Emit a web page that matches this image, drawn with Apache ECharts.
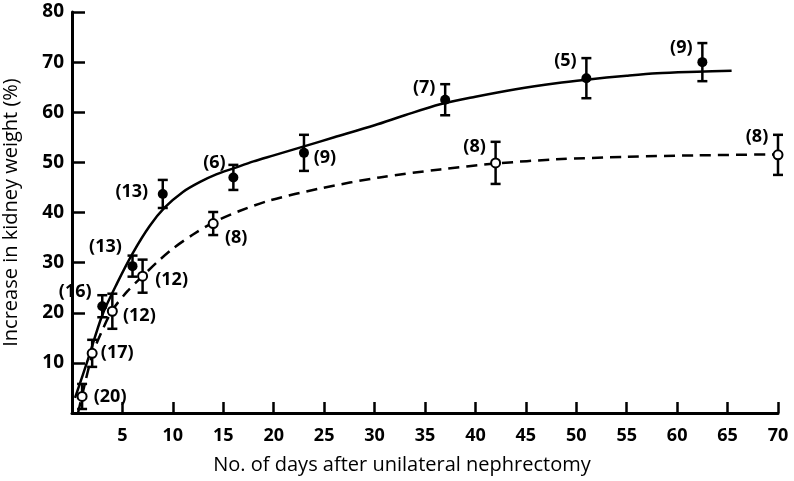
<html>
<meta charset="UTF-8">
<head>
    <script src="https://cdn.jsdelivr.net/npm/echarts@6/dist/echarts.min.js"></script>
</head>
<body style="margin:0;background:#fff">

<div id="kidneyChart" style="width:794px;height:481px;"></div>

</body>
<script>
    // points with error bars, filled circles (solid curve)
    var daysFilled = [3, 6, 9, 16, 23, 37, 51, 62.5];
    var meanFilled = [21.3, 29.3, 43.7, 47, 51.9, 62.5, 66.8, 70];
    var errFilled = [2.2, 2.1, 2.8, 2.5, 3.6, 3.1, 4, 3.8];
    var nFilled = [16, 13, 13, 6, 9, 7, 5, 9];

    // open circles (dashed curve)
    var daysOpen = [1, 2, 4, 7, 14, 42, 70];
    var meanOpen = [3.3, 11.9, 20.3, 27.3, 37.8, 49.9, 51.5];
    var errOpen = [2.5, 2.7, 3.5, 3.3, 2.3, 4.2, 4];
    var nOpen = [20, 17, 12, 12, 8, 8, 8];

    // fitted curves as drawn
    var solidX = [0.3, 1.6, 3, 4.5, 6, 7.7, 9.2, 11, 12.7, 14.3, 16, 18, 20, 23, 26, 30, 33, 36.5, 40, 44, 48, 51, 55, 58, 62, 65.4];
    var solidY = [3, 10.8, 19.5, 26, 31.8, 37.3, 41, 44.1, 46.1, 47.6, 48.8, 50.2, 51.4, 53.2, 55, 57.4, 59.4, 61.6, 63.1, 64.6, 65.8, 66.5, 67.3, 67.8, 68.1, 68.3];
    var dashX = [0.6, 1, 2, 3, 4, 5.5, 7, 8.5, 10, 12, 14, 16.6, 19.6, 24.6, 30.5, 36.5, 42.2, 48, 55, 62, 70];
    var dashY = [0, 3.5, 11.5, 16.5, 20.5, 24.3, 27.3, 30.2, 32.8, 35.6, 38, 40.3, 42.4, 44.8, 47, 48.6, 49.8, 50.6, 51.1, 51.4, 51.6];

    // where the (n) labels sit relative to each point, px
    var labelOffFilled = [[-27, -14], [-27, -19], [-31, -2], [-19, -15], [21, 5], [-21, -12], [-21, -17], [-21, -14]];
    var labelOffOpen = [[28, 0], [25, 0], [27, 5], [29, 4], [23, 14], [-21, -16], [-21, -18]];

    var FONT = 'Open Sans';

    function zip(xs, ys) {
        var out = [];
        for (var i = 0; i < xs.length; i++) out.push([xs[i], ys[i]]);
        return out;
    }

    function errData(xs, m, e) {
        var out = [];
        for (var i = 0; i < xs.length; i++) out.push([xs[i], m[i] - e[i], m[i] + e[i]]);
        return out;
    }

    function pointData(xs, ys, ns, offs) {
        var out = [];
        for (var i = 0; i < xs.length; i++) {
            out.push({
                value: [xs[i], ys[i]],
                n: ns[i],
                label: {offset: offs[i]}
            });
        }
        return out;
    }

    function renderErr(params, api) {
        var x = api.value(0);
        var top = api.coord([x, api.value(2)]);
        var bot = api.coord([x, api.value(1)]);
        var w = 5;
        var st = {stroke: '#000', lineWidth: 2.5};
        return {
            type: 'group',
            children: [
                {type: 'line', shape: {x1: top[0], y1: top[1], x2: bot[0], y2: bot[1]}, style: st},
                {type: 'line', shape: {x1: top[0] - w, y1: top[1], x2: top[0] + w, y2: top[1]}, style: st},
                {type: 'line', shape: {x1: bot[0] - w, y1: bot[1], x2: bot[0] + w, y2: bot[1]}, style: st}
            ]
        };
    }

    var labelStyle = {
        show: true,
        position: 'inside',
        align: 'center',
        verticalAlign: 'middle',
        color: '#000',
        fontFamily: FONT,
        fontWeight: 'bold',
        fontSize: 18,
        formatter: function (p) { return '(' + p.data.n + ')'; }
    };

    var chart = echarts.init(document.getElementById('kidneyChart'));
    chart.setOption({
        animation: false,
        backgroundColor: '#fff',
        grid: {left: 72, right: 16, top: 12, bottom: 68, containLabel: false, outerBoundsMode: 'none'},
        xAxis: {
            type: 'value',
            min: 0, max: 70, interval: 5,
            name: 'No. of days after unilateral nephrectomy',
            nameLocation: 'middle',
            nameGap: 42,
            nameTextStyle: {fontFamily: FONT, fontSize: 20, color: '#000', padding: [0, 46, 0, 0]},
            axisLine: {lineStyle: {color: '#000', width: 3}},
            axisTick: {inside: true, length: 11, lineStyle: {color: '#000', width: 2.5}},
            axisLabel: {
                margin: 14, color: '#000', fontFamily: FONT, fontSize: 18, fontWeight: 'bold',
                formatter: function (v) { return v === 0 ? '' : v; }
            },
            splitLine: {show: false}
        },
        yAxis: {
            type: 'value',
            min: 0, max: 80, interval: 10,
            name: 'Increase in kidney weight (%)',
            nameLocation: 'middle',
            nameGap: 51,
            nameTextStyle: {fontFamily: FONT, fontSize: 20, color: '#000'},
            axisLine: {show: true, lineStyle: {color: '#000', width: 3}},
            axisTick: {show: true, inside: true, length: 13, lineStyle: {color: '#000', width: 2.5}},
            axisLabel: {
                margin: 8, color: '#000', fontFamily: FONT, fontSize: 19, fontWeight: 'bold',
                formatter: function (v) { return v === 0 ? '' : v; }
            },
            splitLine: {show: false}
        },
        series: [
            {
                type: 'line', data: zip(solidX, solidY), smooth: 0.3, showSymbol: false,
                lineStyle: {color: '#000', width: 2.5}, z: 1
            },
            {
                type: 'line', data: zip(dashX, dashY), smooth: 0.3, showSymbol: false,
                lineStyle: {color: '#000', width: 2.5, type: [11, 7]}, z: 1
            },
            {type: 'custom', renderItem: renderErr, data: errData(daysFilled, meanFilled, errFilled), z: 2},
            {type: 'custom', renderItem: renderErr, data: errData(daysOpen, meanOpen, errOpen), z: 2},
            {
                type: 'scatter', data: pointData(daysFilled, meanFilled, nFilled, labelOffFilled),
                symbol: 'circle', symbolSize: 10,
                itemStyle: {color: '#000', opacity: 1},
                label: labelStyle, z: 3
            },
            {
                type: 'scatter', data: pointData(daysOpen, meanOpen, nOpen, labelOffOpen),
                symbol: 'circle', symbolSize: 9,
                itemStyle: {color: '#fff', borderColor: '#000', borderWidth: 2, opacity: 1},
                label: labelStyle, z: 3
            }
        ]
    });
</script>
</html>
